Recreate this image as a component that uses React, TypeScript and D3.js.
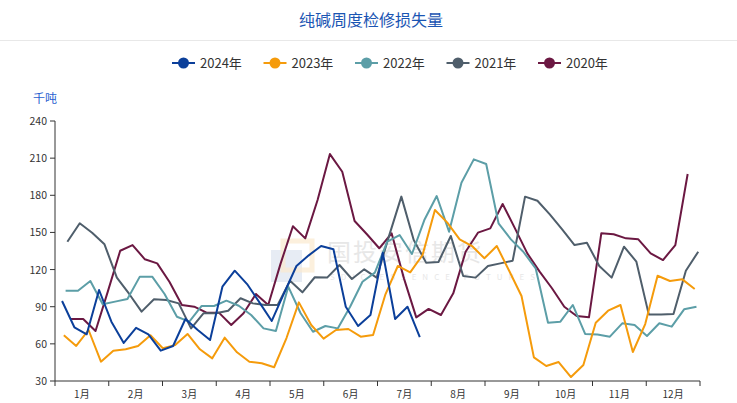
import React from 'react';
import * as d3 from 'd3';

const W = 737;
const H = 403;

const monthLabels = ['1月', '2月', '3月', '4月', '5月', '6月', '7月', '8月', '9月', '10月', '11月', '12月'];
const yTicks = [30, 60, 90, 120, 150, 180, 210, 240];

const seriesNames = ['2024年', '2023年', '2022年', '2021年', '2020年'];
const seriesColors = ['#0b3f9a', '#f59b0b', '#5c9ea7', '#4f5e6b', '#6b1842'];
const startDates = ['2024-01-05', '2023-01-06', '2022-01-07', '2021-01-08', '2020-01-10'];

const v2024 = [94.6, 73.4, 67.7, 103.5, 77.9, 60.7, 73, 67.7, 54.5, 58.3, 80.1, 71.2, 63.1, 106.2, 119.1, 108.3, 93.5, 78.5, 101, 122.9, 131.5, 139, 136.4, 90, 74.4, 83.3, 133.6, 80.1, 90, 65.5];
const v2023 = [66.9, 58.3, 71.2, 45.6, 54.5, 55.6, 58.3, 66.9, 56.4, 59, 68, 55.6, 48.3, 65, 53.2, 45.6, 44.3, 41.1, 64.7, 93.5, 75.2, 64.2, 71.2, 72, 65.8, 67.2, 100, 122.9, 117.8, 131.8, 168.1, 157.9, 144.4, 139, 129.1, 139, 119.1, 98.7, 49.1, 42.1, 45.3, 33.2, 42.9, 77.1, 86.8, 91.4, 53.4, 76, 115, 110.8, 112.1, 104.3];
const v2022 = [102.9, 102.9, 110.8, 92, 94.1, 96.2, 114.3, 114.3, 100.3, 81.9, 77.9, 90.6, 90.6, 94.9, 90.8, 83.3, 72.5, 70.4, 106.2, 84.7, 69.8, 74.4, 72.5, 90, 110.2, 117.5, 142.5, 147.9, 132.6, 160, 179.4, 150.6, 190.2, 209, 205.3, 157.4, 144.4, 134.4, 121, 77.1, 77.9, 91.4, 68, 67.5, 65.8, 76.6, 75.2, 66.3, 76.6, 73.9, 87.9, 90];
const v2021 = [142.5, 157.4, 149.8, 140.4, 113.5, 100.3, 86, 96, 95.4, 92.7, 72.5, 84.7, 84.7, 86.8, 96.8, 92.7, 91.4, 91.4, 111, 101.6, 113.8, 113.5, 123.7, 112.4, 120.2, 113.5, 147, 178.9, 143.9, 125.6, 126.1, 147.1, 114.8, 113.5, 122.9, 125, 127.2, 178.9, 175.6, 164.6, 152.5, 139.8, 141.7, 122.9, 113.5, 138.5, 126.4, 83.8, 83.8, 84.1, 119.1, 134.4];
const v2020 = [80.1, 80.1, 70.4, 102.4, 135.2, 139.8, 128.3, 125, 110, 91.4, 90, 85.2, 85.2, 75.2, 84.7, 100.3, 91.4, 124.8, 155, 145.2, 176.2, 213.3, 199, 159.2, 148.5, 137.2, 149.3, 112.9, 81.4, 88.2, 83.3, 100.8, 134.4, 149.8, 153.3, 173, 153.3, 133.1, 118.3, 104.9, 90, 82.5, 81.4, 149.3, 148.5, 145.2, 144.4, 133.1, 127.7, 139.8, 197.2];

const seriesValues = [v2024, v2023, v2022, v2021, v2020];

const plot = { left: 55, right: 700, top: 121, bottom: 381 };

const parse = d3.timeParse('%Y-%m-%d');

function yearFraction(d: Date): number {
  const y0 = d3.timeYear.floor(d);
  const y1 = d3.timeYear.offset(y0, 1);
  const doy = d3.timeDay.count(y0, d);
  const len = d3.timeDay.count(y0, y1);
  return (doy / len) * 12;
}

export default function App() {
  const x = d3.scaleLinear().domain([0, 12]).range([plot.left, plot.right]);
  const y = d3.scaleLinear().domain([30, 240]).range([plot.bottom, plot.top]);
  const band = d3.scaleBand<string>().domain(monthLabels).range([plot.left, plot.right]);

  const series = seriesValues.map((vals, si) => {
    const start = parse(startDates[si]) as Date;
    const pts = vals.map((v, i) => {
      const d = d3.timeDay.offset(start, 7 * i);
      return [x(yearFraction(d)), y(v)] as [number, number];
    });
    return pts;
  });

  const line = d3.line<[number, number]>().x((p) => p[0]).y((p) => p[1]);

  const font = '"Noto Sans CJK SC", "Noto Sans", sans-serif';
  const legendStart = 172;
  const legendStep = 91.5;
  const legendY = 63;

  // draw order: 2020 bottom? keep 2024 on top
  const order = [4, 3, 2, 1, 0];

  return (
    <svg
      width={W}
      height={H}
      style={{ position: 'absolute', left: 0, top: 0, background: '#fff' }}
      fontFamily={font}
    >
      <rect x={0} y={0} width={W} height={H} fill="#fff" />
      <text x={371} y={26} textAnchor="middle" fontSize={16} fill="#1a55b3">
        纯碱周度检修损失量
      </text>
      <line x1={0} x2={W} y1={40.5} y2={40.5} stroke="#e8e8e8" strokeWidth={1} />

      {seriesNames.map((name, i) => {
        const lx = legendStart + i * legendStep;
        return (
          <g key={name}>
            <line x1={lx} x2={lx + 23} y1={legendY} y2={legendY} stroke={seriesColors[i]} strokeWidth={2} />
            <circle cx={lx + 11.5} cy={legendY} r={5.5} fill={seriesColors[i]} />
            <text x={lx + 28} y={legendY + 4.5} fontSize={13} fill="#333">
              {name}
            </text>
          </g>
        );
      })}

      <text x={33} y={103} fontSize={12} fill="#2a5fd0">
        千吨
      </text>

      {/* watermark */}
      <g opacity={0.55}>
        <rect x={271} y={250} width={31} height={32} fill="#b8c8e0" opacity={0.6} />
        <rect x={283} y={241} width={29} height={29} fill="none" stroke="#f8d9a8" strokeWidth={5} opacity={0.7} />
        <text x={327} y={261} fontSize={24} fill="#d4d4d4" letterSpacing={2}>
          国投安信期货
        </text>
        <text x={330} y={280} fontSize={8} fill="#d4d4d4" letterSpacing={6}>
          SDIC ESSENCE FUTURES
        </text>
      </g>

      {/* y axis */}
      <line x1={plot.left} x2={plot.left} y1={plot.top} y2={plot.bottom} stroke="#333" strokeWidth={1} />
      {yTicks.map((t) => (
        <g key={t}>
          <line x1={plot.left - 5} x2={plot.left} y1={y(t)} y2={y(t)} stroke="#333" />
          <text x={plot.left - 8} y={y(t) + 4} fontSize={10.5} textAnchor="end" fill="#333">
            {t}
          </text>
        </g>
      ))}

      {/* x axis */}
      <line x1={plot.left} x2={plot.right} y1={plot.bottom} y2={plot.bottom} stroke="#333" strokeWidth={1} />
      {d3.range(13).map((i) => (
        <line key={i} x1={x(i)} x2={x(i)} y1={plot.bottom} y2={plot.bottom + 5} stroke="#333" />
      ))}
      {monthLabels.map((m) => (
        <text
          key={m}
          x={(band(m) as number) + band.bandwidth() / 2}
          y={plot.bottom + 17}
          fontSize={10}
          textAnchor="middle"
          fill="#333"
        >
          {m}
        </text>
      ))}

      {order.map((si) => (
        <path
          key={si}
          d={line(series[si]) || ''}
          fill="none"
          stroke={seriesColors[si]}
          strokeWidth={2}
          strokeLinejoin="round"
        />
      ))}
    </svg>
  );
}
